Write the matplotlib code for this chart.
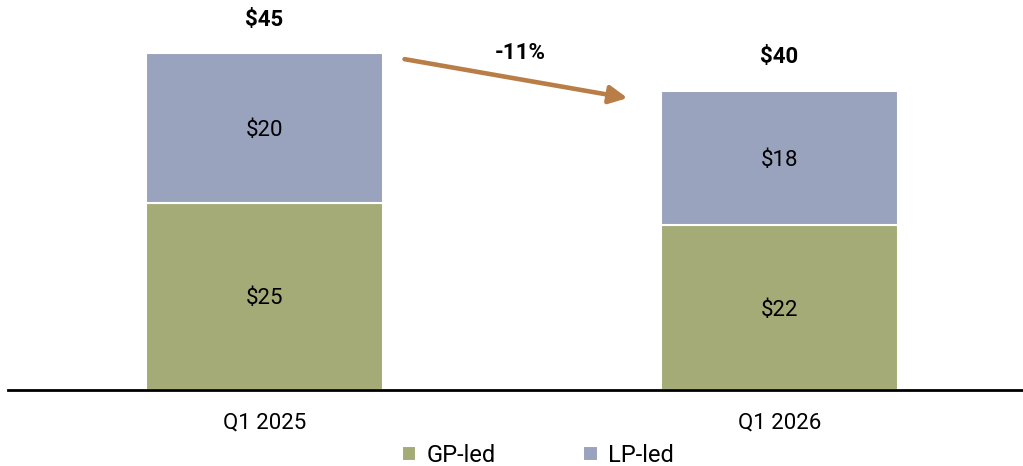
import matplotlib
matplotlib.use("Agg")
import matplotlib.pyplot as plt
import numpy as np

quarters = ["Q1 2025", "Q1 2026"]
gp_led = [25, 22]
lp_led = [20, 18]
series_names = ["GP-led", "LP-led"]

GP_COLOR = "#a4ab76"
LP_COLOR = "#9aa3bd"
ARROW_COLOR = "#b97d48"

plt.rcParams["font.family"] = ["Roboto", "DejaVu Sans"]

fig = plt.figure(figsize=(10.23, 4.66), dpi=100)
ax = fig.add_axes([8 / 1023, 0.163, 1 - 8 / 1023, 0.837])

x = np.arange(len(quarters))
totals = [g + l for g, l in zip(gp_led, lp_led)]
width = 0.46

b1 = ax.bar(x, gp_led, width, color=GP_COLOR, edgecolor="white", linewidth=1.5, label=series_names[0])
b2 = ax.bar(x, lp_led, width, bottom=gp_led, color=LP_COLOR, edgecolor="white", linewidth=1.5, label=series_names[1])

for xi, g, l, t in zip(x, gp_led, lp_led, totals):
    ax.text(xi, g / 2, f"${g}", ha="center", va="center_baseline", fontsize=16)
    ax.text(xi, g + l / 2, f"${l}", ha="center", va="center_baseline", fontsize=16)
    ax.annotate(f"${t}", (xi, t), xytext=(0, 24), textcoords="offset points",
                ha="center", va="center", fontsize=16, fontweight="bold")

# change arrow between the two totals
ax.annotate("", xy=(x[1] - 0.295, totals[1] - 1.0), xytext=(x[0] + 0.272, totals[0] - 0.8),
            arrowprops=dict(arrowstyle="-|>,head_length=0.9,head_width=0.45",
                            mutation_scale=12, color=ARROW_COLOR, lw=3.3,
                            shrinkA=0, shrinkB=0))
pct = (totals[1] - totals[0]) / totals[0] * 100
ax.text((x[0] + x[1]) / 2 - 0.003, totals[0] + 0.0, f"{pct:.0f}%", ha="center", va="center",
        fontsize=16, fontweight="bold")

ax.set_xlim(-0.498, 1.473)
ax.set_ylim(0, 52.1)
ax.set_xticks(x)
ax.set_xticklabels(quarters, fontsize=16)
ax.tick_params(axis="x", length=0, pad=16)
ax.set_yticks([])
for s in ["top", "right", "left"]:
    ax.spines[s].set_visible(False)
ax.spines["bottom"].set_linewidth(2)
ax.spines["bottom"].set_color("black")

fig.legend(handles=[b1, b2], loc="center", bbox_to_anchor=(0.526, 0.022), ncol=2,
           frameon=False, fontsize=17, handlelength=0.6, handleheight=0.6,
           columnspacing=3.7, handletextpad=0.45)

fig.savefig("out.png", dpi=100)
